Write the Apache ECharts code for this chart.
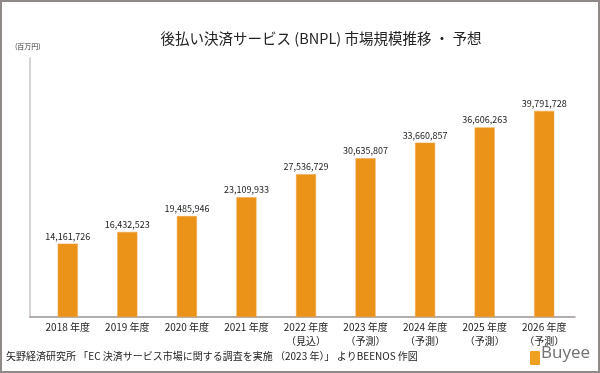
<!DOCTYPE html>
<html>
<head>
<meta charset="utf-8">
<script src="https://cdn.jsdelivr.net/npm/echarts@6/dist/echarts.min.js"></script>
<style>
html,body{margin:0;padding:0;background:#fff;}
#chart{position:absolute;left:0;top:0;width:600px;height:373px;}
#frame{position:absolute;left:0;top:0;width:600px;height:373px;box-sizing:border-box;border:2px solid #8f8a88;pointer-events:none;}
</style>
</head>
<body>
<div id="chart"></div>
<div id="frame"></div>
<script>
const categories = ['2018 年度','2019 年度','2020 年度','2021 年度','2022 年度','2023 年度','2024 年度','2025 年度','2026 年度'];
const notes = ['','','','','（見込）','（予測）','（予測）','（予測）','（予測）'];
const values = [14161726, 16432523, 19485946, 23109933, 27536729, 30635807, 33660857, 36606263, 39791728];
const titleText = '後払い決済サービス (BNPL) 市場規模推移 ・ 予想';
const unitText = '(百万円)';
const sourceText = '矢野経済研究所 「EC 決済サービス市場に関する調査を実施 （2023 年）」 よりBEENOS 作図';

const FONT = '"Noto Sans CJK JP", "Noto Sans", sans-serif';
const chart = echarts.init(document.getElementById('chart'));
chart.setOption({
  animation: false,
  backgroundColor: '#ffffff',
  textStyle: { fontFamily: FONT },
  title: {
    text: titleText,
    left: 316, top: 26, textAlign: 'center',
    textStyle: { fontSize: 14.5, fontWeight: 'normal', color: '#222', fontFamily: FONT }
  },
  graphic: [
    { type: 'text', left: 15, top: 43, style: { text: unitText, fontSize: 7, fill: '#333', fontFamily: FONT } },
    { type: 'text', left: 6, top: 351, style: { text: sourceText, fontSize: 10, fill: '#222', fontFamily: FONT } },
    { type: 'rect', left: 530, top: 351, shape: { width: 10, height: 14, r: 1 }, style: { fill: '#f0a020' } },
    { type: 'text', left: 541, top: 345, style: { text: 'Buyee', fontSize: 17, fill: '#707070', fontFamily: '"Open Sans", sans-serif' } }
  ],
  grid: [
    { left: 38, right: 26, top: 58, bottom: 56 },
    { left: 30, right: 25, top: 58, bottom: 56 }
  ],
  xAxis: [
    {
      type: 'category', gridIndex: 0, data: categories,
      axisLine: { show: false }, axisTick: { show: false },
      axisLabel: {
        interval: 0, margin: 3, fontSize: 10, lineHeight: 14, color: '#222', fontFamily: FONT,
        formatter: function (v, i) { return notes[i] ? v + '\n' + notes[i] : v; }
      }
    },
    {
      type: 'category', gridIndex: 1, data: categories,
      axisLine: { show: true, lineStyle: { color: '#9a9390', width: 1.5 } },
      axisTick: { show: false }, axisLabel: { show: false }
    }
  ],
  yAxis: [
    { type: 'value', gridIndex: 0, min: 0, max: 50000000, show: false, splitLine: { show: false } },
    {
      type: 'value', gridIndex: 1, min: 0, max: 50000000,
      axisLine: { show: true, lineStyle: { color: '#c9c4c1', width: 1.5 } },
      axisTick: { show: false }, axisLabel: { show: false }, splitLine: { show: false }
    }
  ],
  series: [{
    type: 'bar', xAxisIndex: 0, yAxisIndex: 0,
    data: values, barWidth: 20,
    itemStyle: { color: '#ea9318', borderColor: '#f2a040', borderWidth: 0.5 },
    label: {
      show: true, position: 'top', distance: 3, fontSize: 9, color: '#222', fontFamily: FONT,
      formatter: function (p) { return p.value.toLocaleString('en-US'); }
    }
  }]
});
</script>
</body>
</html>
